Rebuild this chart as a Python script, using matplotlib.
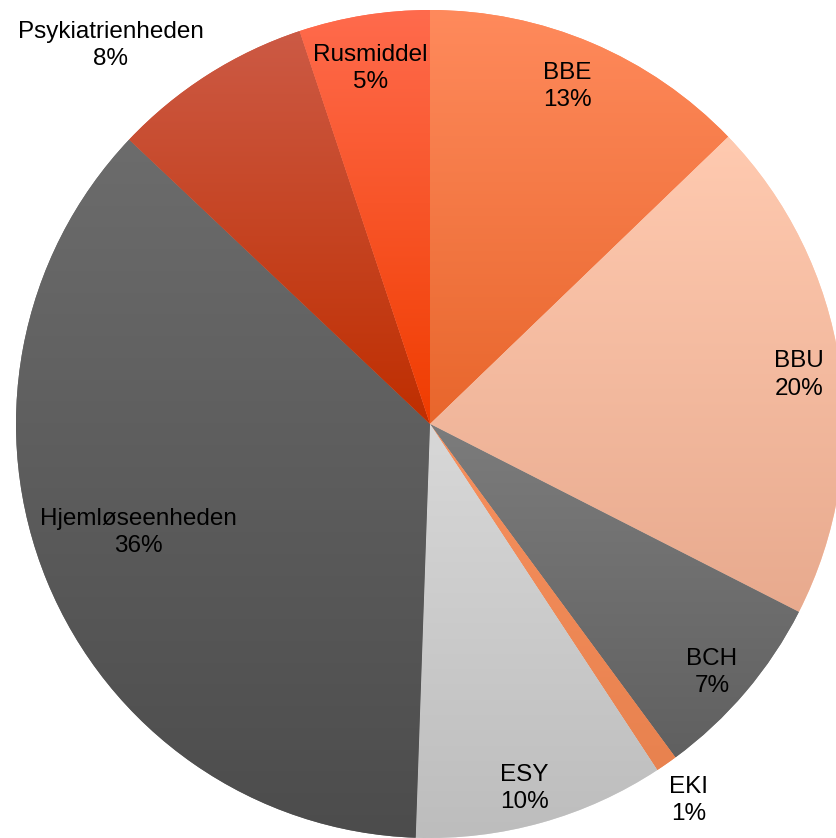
import numpy as np
import matplotlib
matplotlib.use("Agg")
import matplotlib.pyplot as plt
from matplotlib.colors import LinearSegmentedColormap

plt.rcParams["font.family"] = ["Liberation Sans", "DejaVu Sans"]

labels = ["BBE", "BBU", "BCH", "EKI", "ESY", "Hjemløseenheden", "Psykiatrienheden", "Rusmiddel"]
values = [12.8, 19.7, 7.4, 0.85, 9.8, 36.5, 7.85, 5.1]
pct_labels = ["13%", "20%", "7%", "1%", "10%", "36%", "8%", "5%"]

# top / bottom colours of each slice's vertical gradient
top_cols = ["#FF8A5C", "#FFCAB0", "#7C7C7C", "#F7905E", "#D8D8D8", "#6C6C6C", "#CC5A45", "#FF6B4D"]
bot_cols = ["#E8662C", "#E8AA8E", "#606060", "#E8824F", "#BDBDBD", "#4C4C4C", "#BF2E00", "#F03C00"]
# label placement (fraction of radius, angle shift in degrees) - "best fit" look
label_dist = [0.885, 0.90, 0.905, 1.10, 0.905, 0.75, 1.20, 0.875]
label_shift = [1.0, -0.6, -0.9, -0.2, -1.1, -2.2, 7.5, 0.3]

W, H = 836, 838
cx, cy, R = 430, H - 424, 414

fig = plt.figure(figsize=(W / 100, H / 100), dpi=100)
ax = fig.add_axes([0, 0, 1, 1])

wedges, _ = ax.pie(values, startangle=90, counterclock=False, center=(cx, cy), radius=R,
                   wedgeprops=dict(linewidth=0, edgecolor="none"))

grad = np.linspace(1, 0, 256).reshape(-1, 1)
for w, c0, c1 in zip(wedges, top_cols, bot_cols):
    ext = w.get_path().get_extents()
    cmap = LinearSegmentedColormap.from_list("g", [c1, c0])
    im = ax.imshow(grad, cmap=cmap, extent=(ext.x0, ext.x1, ext.y0, ext.y1),
                   aspect="auto", origin="upper", zorder=2, interpolation="bilinear")
    im.set_clip_path(w)
    w.set_facecolor(c0)
ax.set_xlim(0, W); ax.set_ylim(0, H)
ax.set_aspect("equal"); ax.axis("off")

for w, name, pct, d, s in zip(wedges, labels, pct_labels, label_dist, label_shift):
    mid = np.deg2rad((w.theta1 + w.theta2) / 2 + s)
    x = cx + d * R * np.cos(mid)
    y = cy + d * R * np.sin(mid) - 2
    ax.text(x, y, f"{name}\n{pct}", ha="center", va="center", fontsize=17.5,
            linespacing=1.3, color="black", zorder=5)

fig.savefig("out.png", dpi=100)
